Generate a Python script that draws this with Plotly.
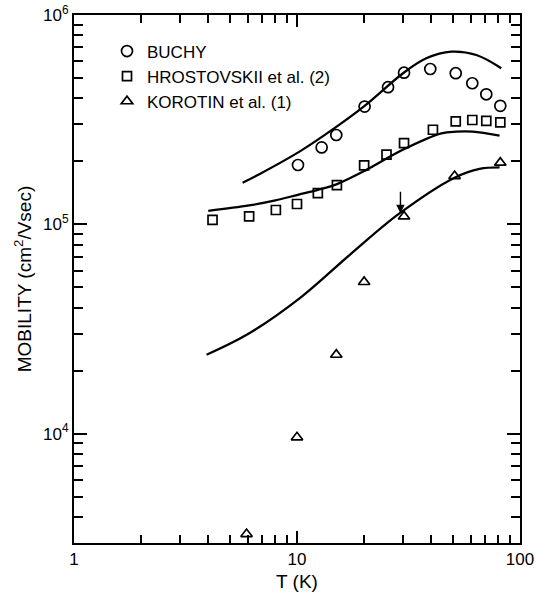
import plotly.graph_objects as go
import math

# ---- data ----
buchy_T = [10.1, 12.9, 15.0, 20.1, 25.6, 30.2, 39.6, 51.5, 61.1, 70.6, 81.6]
buchy_mu = [1.92e5, 2.33e5, 2.67e5, 3.65e5, 4.52e5, 5.30e5, 5.52e5, 5.27e5, 4.72e5, 4.18e5, 3.68e5]

hros_T = [4.18, 6.1, 8.04, 10.0, 12.4, 15.1, 20.0, 25.2, 30.2, 40.7, 51.5, 61.1, 70.6, 81.6]
hros_mu = [1.05e5, 1.09e5, 1.17e5, 1.25e5, 1.41e5, 1.54e5, 1.91e5, 2.15e5, 2.44e5, 2.83e5,
           3.10e5, 3.15e5, 3.12e5, 3.07e5]

kor_T = [5.94, 10.0, 15.0, 20.0, 30.2, 50.9, 81.6]
kor_mu = [3.31e3, 9.6e3, 2.38e4, 5.3e4, 1.09e5, 1.70e5, 1.97e5]

# theory curves
buchy_fit_T = [5.70, 6.81, 10.3, 15.0, 20.1, 30.1, 38.0, 49.2, 63.7, 82.4]
buchy_fit_mu = [1.58e5, 1.74e5, 2.23e5, 2.92e5, 3.68e5, 5.30e5, 6.21e5, 6.68e5, 6.44e5, 5.57e5]

hros_fit_T = [4.0, 6.1, 8.0, 10.0, 12.4, 15.2, 20.5, 29.8, 44.4, 51.8, 61.4, 81.0]
hros_fit_mu = [1.16e5, 1.23e5, 1.30e5, 1.38e5, 1.46e5, 1.56e5, 1.82e5, 2.27e5, 2.72e5,
               2.77e5, 2.77e5, 2.65e5]

kor_fit_T = [3.93, 6.0, 10.3, 17.25, 28.9, 50.9, 65.9, 81.0]
kor_fit_mu = [2.38e4, 2.98e4, 4.44e4, 7.15e4, 1.13e5, 1.67e5, 1.84e5, 1.87e5]

series_names = ["BUCHY", "HROSTOVSKII et al. (2)", "KOROTIN et al. (1)"]

arrow_T = 29.1
arrow_mu = 1.13e5

x_tickvals = [1, 10, 100]
x_ticktext = ["1", "10", "100"]
y_tickvals = [1e4, 1e5, 1e6]
y_ticktext = ["10<sup>4</sup>", "10<sup>5</sup>", "10<sup>6</sup>"]

FONT = "Liberation Sans, Arial, sans-serif"

fig = go.Figure()

for T, mu in [(buchy_fit_T, buchy_fit_mu), (hros_fit_T, hros_fit_mu), (kor_fit_T, kor_fit_mu)]:
    fig.add_trace(go.Scatter(x=T, y=mu, mode="lines", line=dict(color="black", width=2.3, shape="spline", smoothing=1.0),
                             showlegend=False, hoverinfo="skip"))

for T, mu, name, sym, size in [(buchy_T, buchy_mu, series_names[0], "circle-open", 11),
                                (hros_T, hros_mu, series_names[1], "square-open", 9),
                                (kor_T, kor_mu, series_names[2], "triangle-up-open", 10)]:
    fig.add_trace(go.Scatter(x=T, y=mu, mode="markers", name=name,
                             marker=dict(symbol=sym, size=size, color="black", line=dict(width=1.7, color="black"))))

minor_x = [d * 10 ** e for e in range(0, 2) for d in range(2, 10)]
minor_y = [d * 10 ** e for e in range(3, 6) for d in range(2, 10)]

fig.update_layout(
    width=536, height=592,
    margin=dict(l=74, r=16, t=15, b=49, autoexpand=False),
    paper_bgcolor="white", plot_bgcolor="white",
    font=dict(family=FONT, color="black", size=17),
    showlegend=True,
    legend=dict(x=0.074, y=0.965, xanchor="left", yanchor="top", bgcolor="rgba(0,0,0,0)",
                font=dict(size=17, family=FONT, color="black"), tracegroupgap=0),
    xaxis=dict(type="log", range=[0, 2], tickvals=x_tickvals, ticktext=x_ticktext,
               ticks="inside", ticklen=12, tickwidth=1.6, tickcolor="black",
               showline=True, linewidth=2, linecolor="black", mirror="ticks",
               showgrid=False, zeroline=False, automargin=False,
               minor=dict(tickvals=minor_x, ticks="inside", ticklen=8, tickwidth=1.6, tickcolor="black", showgrid=False),
               tickfont=dict(size=17, family=FONT), ticklabelstandoff=0,
               title=dict(text="T (K)", font=dict(size=19, family=FONT), standoff=6)),
    yaxis=dict(type="log", range=[math.log10(3000), 6], tickvals=y_tickvals, ticktext=y_ticktext,
               ticks="inside", ticklen=13, tickwidth=1.6, tickcolor="black",
               showline=True, linewidth=2, linecolor="black", mirror="ticks",
               showgrid=False, zeroline=False, automargin=False,
               minor=dict(tickvals=minor_y, ticks="inside", ticklen=9, tickwidth=1.6, tickcolor="black", showgrid=False),
               tickfont=dict(size=17, family=FONT), ticklabelstandoff=0,
               title=dict(text="MOBILITY (cm<sup>2</sup>/Vsec)", font=dict(size=19, family=FONT), standoff=6)),
)

fig.add_annotation(x=math.log10(arrow_T), y=math.log10(arrow_mu), xref="x", yref="y",
                   text="", showarrow=True, ax=0, ay=-23, arrowhead=2, arrowsize=1.2,
                   arrowwidth=1.4, arrowcolor="black")

fig.write_html("out.html")
